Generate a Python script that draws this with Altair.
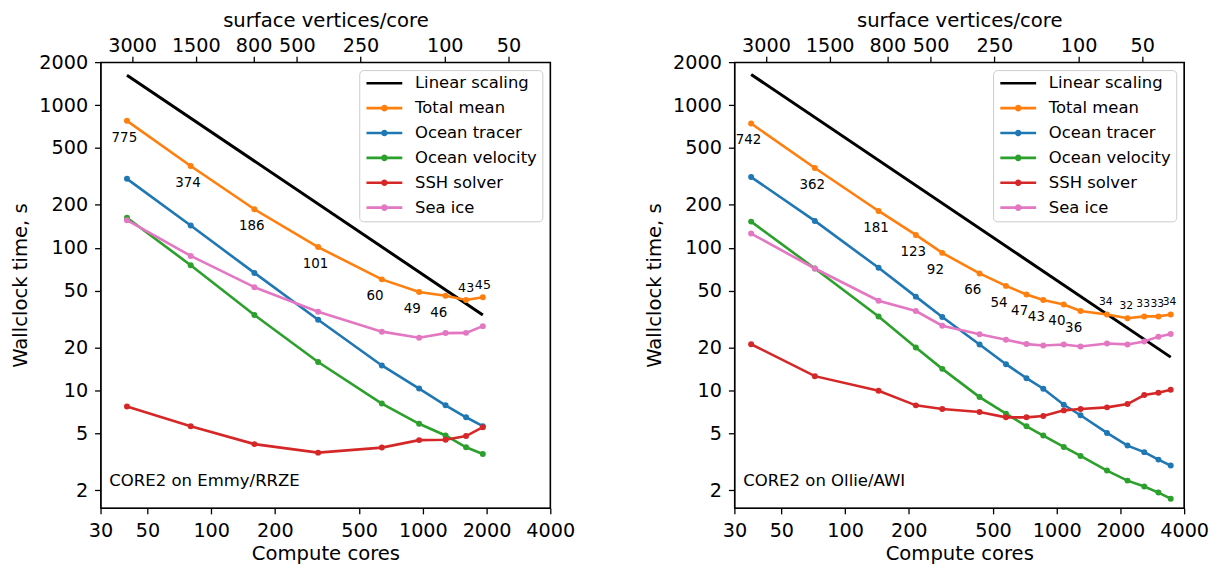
import altair as alt
import pandas as pd

# ---------------- data ----------------
SERIES = ["Linear scaling", "Total mean", "Ocean tracer", "Ocean velocity", "SSH solver", "Sea ice"]
COLORS = ["#000000", "#ff7f0e", "#1f77b4", "#2ca02c", "#d62728", "#e377c2"]

X_TICKS = [30, 50, 100, 200, 500, 1000, 2000, 4000]
Y_TICKS = [2, 5, 10, 20, 50, 100, 200, 500, 1000, 2000]
TOP_TICKS = [3000, 1500, 800, 500, 250, 100, 50]
N_SURFACE_VERTICES = 126858
X_DOMAIN = [30, 4000]
Y_DOMAIN = [1.5, 2000]

# Emmy / RRZE
emmy_cores = [40, 80, 160, 320, 640, 960, 1280, 1600, 1920]
emmy_total = [775, 374, 186, 101, 60, 49, 46, 43, 45]
emmy_tracer = [304, 143, 66.6, 31.3, 14.95, 10.3, 7.86, 6.48, 5.61]
emmy_velocity = [162, 75.4, 33.8, 15.8, 8.08, 5.83, 4.83, 3.99, 3.58]
emmy_ssh = [7.70, 5.61, 4.20, 3.66, 3.97, 4.48, 4.51, 4.78, 5.52]
emmy_ice = [156, 87.6, 52.9, 35.6, 25.8, 23.4, 25.2, 25.3, 28.2]
emmy_linear_cores = [40, 1920]
emmy_linear = [1620, 33.8]
emmy_label_side = ["below"] * 7 + ["above"] * 2

# Ollie / AWI
ollie_cores = [36, 72, 144, 216, 288, 432, 576, 720, 864, 1080, 1296, 1728, 2160, 2592, 3024, 3456]
ollie_total = [742, 362, 181, 123, 92, 66, 54, 47, 43, 40, 36, 34, 32, 33, 33, 34]
ollie_tracer = [312.8, 154.1, 72.3, 45.4, 32.7, 20.96, 15.26, 12.18, 10.26, 7.93, 6.69, 5.03, 4.10, 3.69, 3.27, 2.97]
ollie_velocity = [152.4, 71.5, 32.9, 19.97, 14.15, 8.97, 6.86, 5.60, 4.82, 4.01, 3.47, 2.74, 2.33, 2.12, 1.92, 1.74]
ollie_ssh = [21.06, 12.58, 9.93, 7.85, 7.40, 7.05, 6.47, 6.47, 6.61, 7.24, 7.40, 7.60, 8.02, 9.27, 9.61, 10.09]
ollie_ice = [125.6, 71.5, 42.5, 36.0, 28.4, 24.7, 22.6, 21.1, 20.65, 20.96, 20.3, 21.3, 21.0, 22.0, 23.8, 24.8]
ollie_linear_cores = [36, 3456]
ollie_linear = [1640, 17.1]
ollie_label_side = ["below"] * 11 + ["above"] * 5

NOTE_X = 33
NOTE_Y = 2.3

# ---------------- styling ----------------
FONT = "DejaVu Sans"
W, H = 452, 448
LINE_PATH = "M-3,0H3"
DOT_PATH = ("M-3,0H3"
            "M0.1333,0A0.1333,0.1333,0,1,1,-0.1333,0A0.1333,0.1333,0,1,1,0.1333,0"
            "M0.3333,0A0.3333,0.3333,0,1,1,-0.3333,0A0.3333,0.3333,0,1,1,0.3333,0")
SYMBOL_EXPR = f"datum.value == '{SERIES[0]}' ? '{LINE_PATH}' : '{DOT_PATH}'"


def make_legend():
    return alt.Legend(title=None, orient="top-right", offset=8, padding=5,
                      labelFontSize=16.5, labelFont=FONT, labelColor="black",
                      labelOffset=22.5, symbolOffset=12, symbolSize=144,
                      symbolType={"expr": SYMBOL_EXPR},
                      symbolStrokeWidth=2.6, rowPadding=8,
                      strokeColor="#cccccc", fillColor="rgba(255,255,255,0.8)",
                      cornerRadius=4, labelLimit=400)


def panel(cores, total, tracer, velocity, ssh, ice, lin_cores, lin_vals, label_side, note,
          small_size):
    rows = []
    for name, vals in zip(SERIES[1:], [total, tracer, velocity, ssh, ice]):
        for c, t in zip(cores, vals):
            rows.append({"series": name, "cores": c, "time": t})
    df = pd.DataFrame(rows)
    df_lin = pd.DataFrame({"series": "Linear scaling", "cores": lin_cores, "time": lin_vals})
    df_lab = pd.DataFrame({"cores": cores, "time": total,
                           "label": [str(v) for v in total], "side": label_side})
    df_note = pd.DataFrame({"cores": [NOTE_X], "time": [NOTE_Y], "note": [note]})

    xs = alt.Scale(type="log", domain=X_DOMAIN, nice=False, zero=False)
    ys = alt.Scale(type="log", domain=Y_DOMAIN, nice=False, zero=False)
    x_bot = alt.X("cores:Q", scale=xs,
                  axis=alt.Axis(orient="bottom", values=X_TICKS, format="d", title="Compute cores"))
    x_top = alt.X("cores:Q", scale=xs,
                  axis=alt.Axis(orient="top", values=[N_SURFACE_VERTICES / v for v in TOP_TICKS],
                                labelExpr=f"format(round({N_SURFACE_VERTICES} / datum.value), 'd')",
                                title="surface vertices/core"))
    y_enc = alt.Y("time:Q", scale=ys,
                  axis=alt.Axis(values=Y_TICKS, format="d", title="Wallclock time, s"))
    cscale = alt.Scale(domain=SERIES, range=COLORS)

    lin = alt.Chart(df_lin).mark_line(strokeWidth=3, color="black").encode(x=x_bot, y=y_enc)
    lines = alt.Chart(df).mark_line(strokeWidth=2.6).encode(
        x=x_bot, y=y_enc, color=alt.Color("series:N", scale=cscale, legend=make_legend()))
    pts = alt.Chart(df).mark_circle(size=36, opacity=1).encode(
        x=x_bot, y=y_enc, color=alt.Color("series:N", scale=cscale, legend=None))
    below = alt.Chart(df_lab).transform_filter("datum.side == 'below'").mark_text(
        align="left", baseline="middle", dx=-15.5, dy=17, fontSize=13.5, color="black", font=FONT
    ).encode(x=x_bot, y=y_enc, text="label:N")
    above = alt.Chart(df_lab).transform_filter("datum.side == 'above'").mark_text(
        align="left", baseline="middle", dx=-8, dy=-12.3, fontSize=small_size, color="black", font=FONT
    ).encode(x=x_bot, y=y_enc, text="label:N")
    inner = alt.layer(lin, lines, pts, below, above)
    note_layer = alt.Chart(df_note).mark_text(
        align="left", baseline="middle", fontSize=16.6, color="black", font=FONT
    ).encode(x=x_top, y=y_enc, text="note:N")
    frame = alt.Chart(df_note).mark_rule(color="black", strokeWidth=1.3).encode(
        x=alt.X(datum=X_DOMAIN[1], type="quantitative", scale=xs, axis=None))
    return (alt.layer(inner, note_layer, frame)
            .resolve_axis(x="independent")
            .properties(width=W, height=H))


left = panel(emmy_cores, emmy_total, emmy_tracer, emmy_velocity, emmy_ssh, emmy_ice,
             emmy_linear_cores, emmy_linear, emmy_label_side, "CORE2 on Emmy/RRZE", 12.7)
right = panel(ollie_cores, ollie_total, ollie_tracer, ollie_velocity, ollie_ssh, ollie_ice,
              ollie_linear_cores, ollie_linear, ollie_label_side, "CORE2 on Ollie/AWI", 10.8)

chart = (
    alt.hconcat(left, right, spacing=185, bounds="flush")
    .resolve_scale(color="independent")
    .resolve_legend(color="independent")
    .configure(font=FONT, padding={"left": 2, "right": 2, "top": 0, "bottom": 0})
    .configure_view(stroke="black", strokeWidth=1.3)
    .configure_axis(grid=False, domainColor="black", domainWidth=1.3, tickColor="black",
                    tickWidth=1.3, tickSize=6, labelColor="black", titleColor="black",
                    labelFontSize=19.3, titleFontSize=19.7, titleFontWeight="normal",
                    labelFont=FONT, titleFont=FONT, labelFlush=False, labelOverlap=False)
    .configure_axisBottom(labelPadding=8, titlePadding=3)
    .configure_axisTop(labelPadding=1, titlePadding=6)
    .configure_axisLeft(labelPadding=7, titlePadding=8)
)

chart.save("out.html", embed_options={"renderer": "svg", "actions": False})
